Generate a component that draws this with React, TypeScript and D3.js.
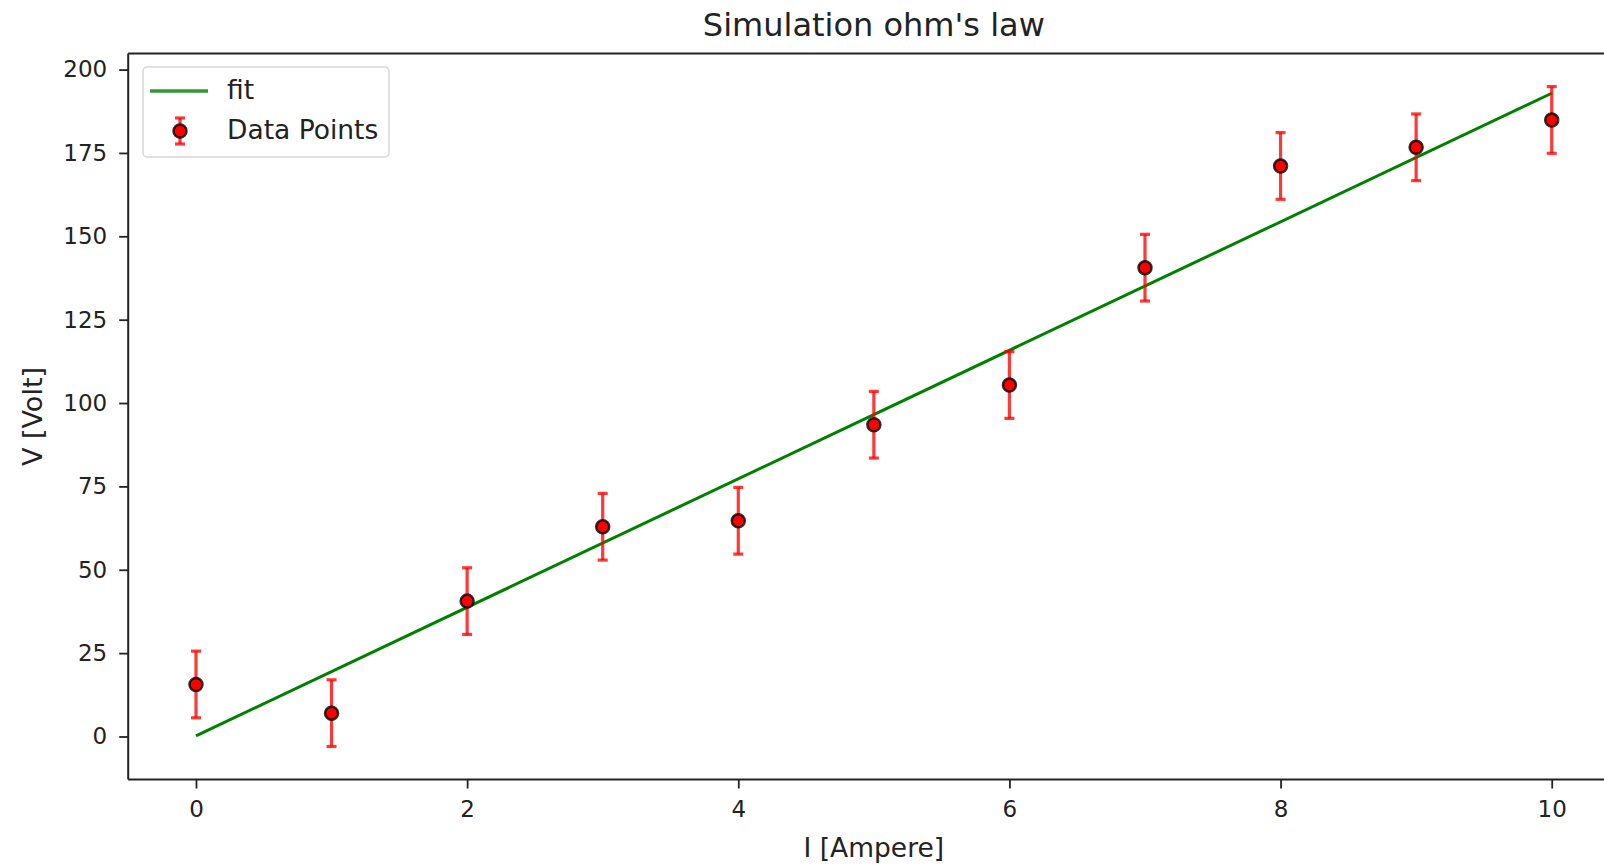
import { useEffect, useRef } from 'react'
import * as d3 from 'd3'

// measured current (A) and voltage (V)
const currents = [0, 1, 2, 3, 4, 5, 6, 7, 8, 9, 10]
const voltages = [15.6, 7.0, 40.6, 62.9, 64.7, 93.5, 105.4, 140.6, 171.1, 176.7, 184.9]
const voltErrors = [10, 10, 10, 10, 10, 10, 10, 10, 10, 10, 10]

// fitted line end points
const fitCurrents = [0, 10]
const fitVoltages = [0.2, 192.9]

const xTicks = [0, 2, 4, 6, 8, 10]
const yTicks = [0, 25, 50, 75, 100, 125, 150, 175, 200]

const FONT = '"DejaVu Sans", Verdana, sans-serif'
const ERR = 'rgba(255,0,0,0.78)'

export default function App() {
  const svgRef = useRef<SVGSVGElement>(null)

  useEffect(() => {
    if (!svgRef.current) return
    const svg = d3.select(svgRef.current)
    svg.selectAll('*').remove()

    const width = 1604
    const height = 865
    const plot = { left: 128.2, right: 1619.5, top: 53.6, bottom: 779.5 }

    // matplotlib style 5% margins around data
    const xExt = d3.extent(currents) as [number, number]
    const xPad = (xExt[1] - xExt[0]) * 0.05
    const lows = voltages.map((v, i) => v - voltErrors[i])
    const highs = voltages.map((v, i) => v + voltErrors[i])
    const yLo = Math.min(d3.min(lows)!, d3.min(fitVoltages)!)
    const yHi = Math.max(d3.max(highs)!, d3.max(fitVoltages)!)
    const yPad = (yHi - yLo) * 0.05

    const x = d3.scaleLinear().domain([xExt[0] - xPad, xExt[1] + xPad]).range([plot.left, plot.right])
    const y = d3.scaleLinear().domain([yLo - yPad, yHi + yPad]).range([plot.bottom, plot.top])

    svg.attr('width', width).attr('height', height)
    svg.append('rect').attr('width', width).attr('height', height).attr('fill', '#fff')

    // fit line
    const line = d3
      .line<number>()
      .x((d, i) => x(fitCurrents[i]))
      .y((d) => y(d))
    svg
      .append('path')
      .datum(fitVoltages)
      .attr('d', line)
      .attr('fill', 'none')
      .attr('stroke', '#008000')
      .attr('stroke-width', 3)

    // error bars
    const errG = svg.append('g').attr('stroke', ERR).attr('stroke-width', 3.2)
    currents.forEach((c, i) => {
      const cx = x(c)
      const y0 = y(voltages[i] - voltErrors[i])
      const y1 = y(voltages[i] + voltErrors[i])
      errG.append('line').attr('x1', cx).attr('x2', cx).attr('y1', y0).attr('y2', y1)
      errG.append('line').attr('x1', cx - 5).attr('x2', cx + 5).attr('y1', y0).attr('y2', y0)
      errG.append('line').attr('x1', cx - 5).attr('x2', cx + 5).attr('y1', y1).attr('y2', y1)
    })

    // points
    svg
      .append('g')
      .selectAll('circle')
      .data(currents)
      .enter()
      .append('circle')
      .attr('cx', (d) => x(d))
      .attr('cy', (d, i) => y(voltages[i]))
      .attr('r', 6.5)
      .attr('fill', '#ff0000')
      .attr('stroke', 'rgba(0,0,0,0.8)')
      .attr('stroke-width', 2.5)

    // axes
    const xAxis = svg
      .append('g')
      .attr('transform', `translate(0,${plot.bottom})`)
      .call(d3.axisBottom(x).tickValues(xTicks).tickSize(9).tickPadding(12).tickFormat(d3.format('d')))
    const yAxis = svg
      .append('g')
      .attr('transform', `translate(${plot.left},0)`)
      .call(d3.axisLeft(y).tickValues(yTicks).tickSize(9).tickPadding(12).tickFormat(d3.format('d')))

    ;[xAxis, yAxis].forEach((ax) => {
      ax.select('.domain').remove()
      ax.selectAll('line').attr('stroke', '#222').attr('stroke-width', 1.8)
      ax.selectAll('text')
        .attr('fill', '#222')
        .style('font-family', FONT)
        .style('font-size', '23px')
    })

    // spines (right spine falls outside the picture)
    const spines = svg.append('g').attr('stroke', '#222').attr('stroke-width', 2).attr('fill', 'none')
    spines.append('line').attr('x1', plot.left).attr('x2', plot.left).attr('y1', plot.top).attr('y2', plot.bottom)
    spines.append('line').attr('x1', plot.left).attr('x2', plot.right).attr('y1', plot.bottom).attr('y2', plot.bottom)
    spines.append('line').attr('x1', plot.left).attr('x2', plot.right).attr('y1', plot.top).attr('y2', plot.top)
    spines.append('line').attr('x1', plot.right).attr('x2', plot.right).attr('y1', plot.top).attr('y2', plot.bottom)

    // title and axis labels
    const midX = (plot.left + plot.right) / 2
    svg
      .append('text')
      .attr('x', midX)
      .attr('y', 36)
      .attr('text-anchor', 'middle')
      .attr('fill', '#222')
      .style('font-family', FONT)
      .style('font-size', '32px')
      .text("Simulation ohm's law")

    svg
      .append('text')
      .attr('x', midX)
      .attr('y', 857)
      .attr('text-anchor', 'middle')
      .attr('fill', '#222')
      .style('font-family', FONT)
      .style('font-size', '26.5px')
      .text('I [Ampere]')

    svg
      .append('text')
      .attr('transform', `translate(42,${(plot.top + plot.bottom) / 2}) rotate(-90)`)
      .attr('text-anchor', 'middle')
      .attr('fill', '#222')
      .style('font-family', FONT)
      .style('font-size', '27px')
      .text('V [Volt]')

    // legend
    const legend = svg.append('g').attr('transform', 'translate(143,67)')
    legend
      .append('rect')
      .attr('width', 246)
      .attr('height', 90)
      .attr('rx', 4)
      .attr('fill', 'rgba(255,255,255,0.8)')
      .attr('stroke', '#d6d6d6')
      .attr('stroke-width', 1.5)

    legend
      .append('line')
      .attr('x1', 7)
      .attr('x2', 65)
      .attr('y1', 24)
      .attr('y2', 24)
      .attr('stroke', '#008000')
      .attr('stroke-opacity', 0.8)
      .attr('stroke-width', 3.5)
    legend
      .append('text')
      .attr('x', 84)
      .attr('y', 32)
      .attr('fill', '#222')
      .style('font-family', FONT)
      .style('font-size', '26.5px')
      .text('fit')

    const mk = legend.append('g').attr('transform', 'translate(37,64)')
    mk.append('line').attr('x1', 0).attr('x2', 0).attr('y1', -13).attr('y2', 13).attr('stroke', ERR).attr('stroke-width', 3.2)
    mk.append('line').attr('x1', -5).attr('x2', 5).attr('y1', -13).attr('y2', -13).attr('stroke', ERR).attr('stroke-width', 3.2)
    mk.append('line').attr('x1', -5).attr('x2', 5).attr('y1', 13).attr('y2', 13).attr('stroke', ERR).attr('stroke-width', 3.2)
    mk.append('circle').attr('r', 6.5).attr('fill', '#ff0000').attr('stroke', 'rgba(0,0,0,0.8)').attr('stroke-width', 2.5)
    legend
      .append('text')
      .attr('x', 84)
      .attr('y', 72)
      .attr('fill', '#222')
      .style('font-family', FONT)
      .style('font-size', '26.5px')
      .text('Data Points')
  }, [])

  return (
    <div style={{ position: 'absolute', left: 0, top: 0 }}>
      <svg ref={svgRef} style={{ display: 'block' }}></svg>
    </div>
  )
}
